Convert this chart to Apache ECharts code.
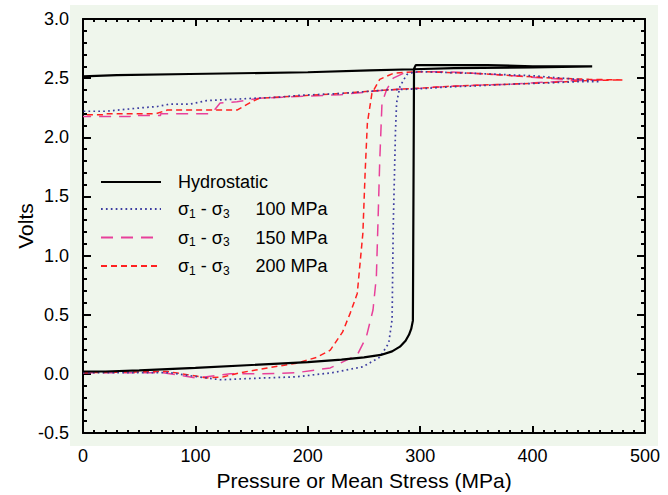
<!DOCTYPE html>
<html>
<head>
<meta charset="utf-8">
<script src="https://cdn.jsdelivr.net/npm/echarts@6/dist/echarts.min.js"></script>
<style>
html,body{margin:0;padding:0;background:#ffffff;}
#wrap{position:relative;width:668px;height:495px;}
#bg{position:absolute;left:70px;top:5px;width:588px;height:441px;background:#eff6ec;}
#chart{position:absolute;left:0;top:0;width:668px;height:495px;}
</style>
</head>
<body>
<div id="wrap"><div id="bg"></div><div id="chart"></div></div>
<script>
// ---- data ----
const xTicks = [0, 100, 200, 300, 400, 500];
const yTicks = [-0.5, 0.0, 0.5, 1.0, 1.5, 2.0, 2.5, 3.0];

const seriesNames = ['Hydrostatic', '100', '150', '200'];

// Hydrostatic: loading, jump, then unloading back
const hydroX = [0, 20, 50, 100, 150, 200, 230, 250, 265, 275, 282, 287, 290, 292, 293.5, 294, 294.5, 296, 300, 360, 400, 453,
                453, 400, 330, 294, 255, 200, 95, 30, 0];
const hydroY = [0.02, 0.02, 0.03, 0.05, 0.075, 0.10, 0.12, 0.14, 0.16, 0.19, 0.23, 0.28, 0.33, 0.38, 0.45, 1.5, 2.58, 2.61, 2.61, 2.61, 2.60, 2.60,
                2.595, 2.59, 2.585, 2.575, 2.565, 2.55, 2.535, 2.525, 2.515];

// sigma1 - sigma3 = 100 MPa
const s100X = [0, 40, 77, 95, 122, 160, 190, 222, 249, 264, 272, 275, 276, 278, 279, 282, 288, 294, 300, 350, 400, 440, 460,
               440, 400, 383, 350, 324, 300, 270, 229, 193, 175, 131, 110, 95, 77, 66, 53, 20, 0];
const s100Y = [0.01, 0.01, 0.01, -0.015, -0.05, -0.035, -0.025, 0.01, 0.06, 0.14, 0.26, 0.46, 1.24, 2.05, 2.29, 2.43, 2.53, 2.55, 2.555, 2.54, 2.52, 2.49, 2.47,
               2.47, 2.455, 2.45, 2.435, 2.425, 2.41, 2.40, 2.37, 2.355, 2.34, 2.32, 2.31, 2.28, 2.28, 2.26, 2.25, 2.22, 2.22];

// sigma1 - sigma3 = 150 MPa
const s150X = [0, 71, 101, 131, 160, 190, 220, 244, 252, 258, 261, 262.5, 264, 266, 270, 276, 285, 300, 324, 350, 383, 410, 440, 466,
               440, 410, 383, 350, 324, 300, 270, 229, 157, 137, 122, 116, 113, 69, 69, 42, 42, 0];
const s150Y = [0.01, 0.01, -0.035, 0.0, 0.0, 0.01, 0.05, 0.16, 0.31, 0.54, 0.82, 1.3, 1.8, 2.29, 2.40, 2.50, 2.54, 2.555, 2.555, 2.54, 2.52, 2.50, 2.485, 2.485,
               2.48, 2.465, 2.45, 2.44, 2.43, 2.415, 2.40, 2.36, 2.33, 2.30, 2.29, 2.22, 2.20, 2.20, 2.185, 2.185, 2.175, 2.175];

// sigma1 - sigma3 = 200 MPa
const s200X = [0, 75, 95, 110, 125, 140, 164, 190, 208, 220, 231, 238, 244, 249, 251, 253, 257, 264, 276, 288, 300, 350, 383, 420, 450, 480,
               450, 420, 383, 350, 324, 300, 270, 229, 157, 150, 137, 75, 65, 20, 18, 0];
const s200Y = [0.01, 0.02, -0.01, -0.035, -0.025, 0.01, 0.05, 0.09, 0.14, 0.20, 0.355, 0.52, 0.68, 1.19, 1.7, 2.12, 2.37, 2.49, 2.54, 2.55, 2.555, 2.54, 2.52, 2.50, 2.49, 2.485,
               2.48, 2.465, 2.45, 2.44, 2.43, 2.415, 2.40, 2.37, 2.33, 2.30, 2.23, 2.23, 2.20, 2.20, 2.19, 2.19];

function zip(xs, ys) { return xs.map((x, i) => [x, ys[i]]); }

const FONT = 'Liberation Sans';
const chart = echarts.init(document.getElementById('chart'), null, {renderer: 'svg'});

const subRich = {
  s: {fontFamily: FONT, fontSize: 18, color: '#000'},
  b: {fontFamily: FONT, fontSize: 12, color: '#000', verticalAlign: 'bottom', padding: [9, 0, 0, 0]},
  g: {width: 12},
  sp: {width: 26},
  n: {fontFamily: FONT, fontSize: 18, color: '#000'}
};

const xMin = xTicks[0], xMax = xTicks[xTicks.length - 1];
const yMin = yTicks[0], yMax = yTicks[yTicks.length - 1];

chart.setOption({
  backgroundColor: 'transparent',
  animation: false,
  grid: {left: 83, right: 23, top: 19, bottom: 62, containLabel: false, outerBoundsMode: 'none'},
  xAxis: [
    {type: 'value', position: 'bottom', min: xMin, max: xMax, interval: 100,
     axisLine: {show: true, onZero: false, lineStyle: {color: '#000', width: 2}},
     axisTick: {show: true, inside: true, length: 7, lineStyle: {color: '#000', width: 2}},
     minorTick: {show: true, splitNumber: 10, length: 3, lineStyle: {color: '#000', width: 2}},
     splitLine: {show: false},
     name: 'Pressure or Mean Stress (MPa)', nameLocation: 'middle', nameGap: 37, nameMoveOverlap: false,
     nameTextStyle: {fontFamily: FONT, fontSize: 21, color: '#000'},
     axisLabel: {show: true, margin: 14, fontFamily: FONT, fontSize: 18, color: '#000'}},
    {type: 'value', position: 'top', min: xMin, max: xMax, interval: 100,
     axisLine: {show: true, onZero: false, lineStyle: {color: '#000', width: 2}},
     axisTick: {show: true, inside: true, length: 7, lineStyle: {color: '#000', width: 2}},
     minorTick: {show: true, splitNumber: 10, length: 3, lineStyle: {color: '#000', width: 2}},
     splitLine: {show: false},
     axisLabel: {show: false}}
  ],
  yAxis: [
    {type: 'value', position: 'left', min: yMin, max: yMax, interval: 0.5,
     axisLine: {show: true, onZero: false, lineStyle: {color: '#000', width: 2}},
     axisTick: {show: true, inside: true, length: 8, lineStyle: {color: '#000', width: 2}},
     minorTick: {show: true, splitNumber: 5, length: 4, lineStyle: {color: '#000', width: 2}},
     splitLine: {show: false},
     name: 'Volts', nameLocation: 'middle', nameGap: 47, nameRotate: 90, nameMoveOverlap: false,
     nameTextStyle: {fontFamily: FONT, fontSize: 21, color: '#000'},
     axisLabel: {show: true, margin: 14, fontFamily: FONT, fontSize: 18, color: '#000',
       formatter: v => v.toFixed(1)}},
    {type: 'value', position: 'right', min: yMin, max: yMax, interval: 0.5,
     axisLine: {show: true, onZero: false, lineStyle: {color: '#000', width: 2}},
     axisTick: {show: true, inside: true, length: 8, lineStyle: {color: '#000', width: 2}},
     minorTick: {show: true, splitNumber: 5, length: 4, lineStyle: {color: '#000', width: 2}},
     splitLine: {show: false},
     axisLabel: {show: false}}
  ],
  legend: {
    show: true, orient: 'vertical', left: 95, top: 168,
    itemWidth: 60, itemHeight: 14, itemGap: 9,
    data: seriesNames,
    itemStyle: {opacity: 0},
    formatter: function (name) {
      if (name === 'Hydrostatic') return '{g|}{n|Hydrostatic}';
      return '{g|}{s|σ}{b|1}{s| - σ}{b|3}{sp|}{n|' + name + ' MPa}';
    },
    textStyle: {fontFamily: FONT, fontSize: 18, color: '#000', rich: subRich}
  },
  series: [
    {name: seriesNames[0], type: 'line', data: zip(hydroX, hydroY), symbol: 'none', showSymbol: false,
     lineStyle: {color: '#000000', width: 2.2, type: 'solid'}, itemStyle: {color: '#000000'}, z: 5},
    {name: seriesNames[1], type: 'line', data: zip(s100X, s100Y), symbol: 'none', showSymbol: false,
     lineStyle: {color: '#3c3ca0', width: 1.7, type: [1.7, 3.2]}, itemStyle: {color: '#3c3ca0'}, z: 4},
    {name: seriesNames[2], type: 'line', data: zip(s150X, s150Y), symbol: 'none', showSymbol: false,
     lineStyle: {color: '#e8409a', width: 1.5, type: [12, 8]}, itemStyle: {color: '#e8409a'}, z: 3},
    {name: seriesNames[3], type: 'line', data: zip(s200X, s200Y), symbol: 'none', showSymbol: false,
     lineStyle: {color: '#ff2020', width: 1.5, type: [6, 4]}, itemStyle: {color: '#ff2020'}, z: 3}
  ]
});
</script>
</body>
</html>
